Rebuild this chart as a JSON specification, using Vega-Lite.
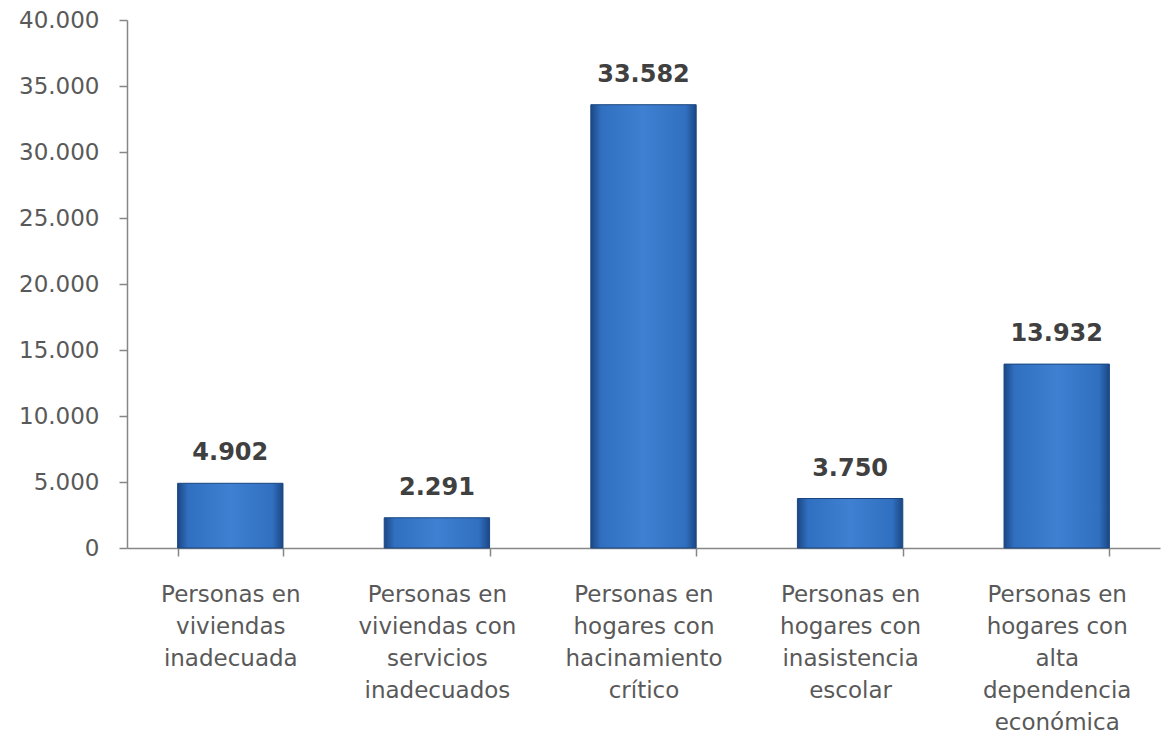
{
  "$schema": "https://vega.github.io/schema/vega-lite/v6.json",
  "width": 1033,
  "height": 528,
  "autosize": {"type": "none"},
  "padding": {"left": 127, "top": 20, "right": 7, "bottom": 188},
  "background": "white",
  "config": {
    "view": {"stroke": null},
    "font": "DejaVu Sans",
    "locale": {"number": {"decimal": ",", "thousands": ".", "grouping": [3], "currency": ["", ""]}}
  },
  "data": {
    "values": [
      {"categoria": "Personas en|viviendas|inadecuada", "valor": 4902},
      {"categoria": "Personas en|viviendas con|servicios|inadecuados", "valor": 2291},
      {"categoria": "Personas en|hogares con|hacinamiento|crítico", "valor": 33582},
      {"categoria": "Personas en|hogares con|inasistencia|escolar", "valor": 3750},
      {"categoria": "Personas en|hogares con|alta|dependencia|económica", "valor": 13932}
    ]
  },
  "encoding": {
    "x": {
      "field": "categoria",
      "type": "nominal",
      "sort": null,
      "scale": {"paddingInner": 0.49, "paddingOuter": 0.245},
      "axis": {
        "title": null,
        "labelAngle": 0,
        "labelExpr": "isValid(datum.value) ? split(datum.value, '|') : ''",
        "labelFont": "DejaVu Sans",
        "labelFontSize": 23,
        "labelColor": "#595959",
        "labelLineHeight": 32,
        "labelPadding": 27,
        "labelBaseline": "top",
        "labelOverlap": false,
        "labelLimit": 0,
        "tickBand": "extent",
        "tickSize": 8,
        "tickColor": "#868686",
        "domainColor": "#868686",
        "domainWidth": 1.5,
        "tickWidth": 1.5
      }
    },
    "y": {
      "field": "valor",
      "type": "quantitative",
      "scale": {"domain": [0, 40000], "nice": false},
      "axis": {
        "title": null,
        "values": [0, 5000, 10000, 15000, 20000, 25000, 30000, 35000, 40000],
        "format": ",.0f",
        "labelFont": "DejaVu Sans",
        "labelFontSize": 23,
        "labelColor": "#595959",
        "labelPadding": 20,
        "grid": false,
        "tickSize": 8,
        "tickColor": "#868686",
        "domainColor": "#868686",
        "domainWidth": 1.5,
        "tickWidth": 1.5
      }
    }
  },
  "layer": [
    {
      "mark": {
        "type": "bar",
        "stroke": "#1a467f",
        "strokeWidth": 1,
        "color": {
          "gradient": "linear",
          "x1": 0, "y1": 0, "x2": 1, "y2": 0,
          "stops": [
            {"offset": 0, "color": "#1b4785"},
            {"offset": 0.1, "color": "#3170c0"},
            {"offset": 0.5, "color": "#3f80d2"},
            {"offset": 0.9, "color": "#3170c0"},
            {"offset": 1, "color": "#1b4785"}
          ]
        }
      }
    },
    {
      "mark": {
        "type": "text",
        "baseline": "middle",
        "dy": -30,
        "font": "DejaVu Sans",
        "fontWeight": "bold",
        "fontSize": 24,
        "color": "#404040"
      },
      "encoding": {
        "text": {"field": "valor", "type": "quantitative", "format": ",.0f"}
      }
    }
  ]
}
